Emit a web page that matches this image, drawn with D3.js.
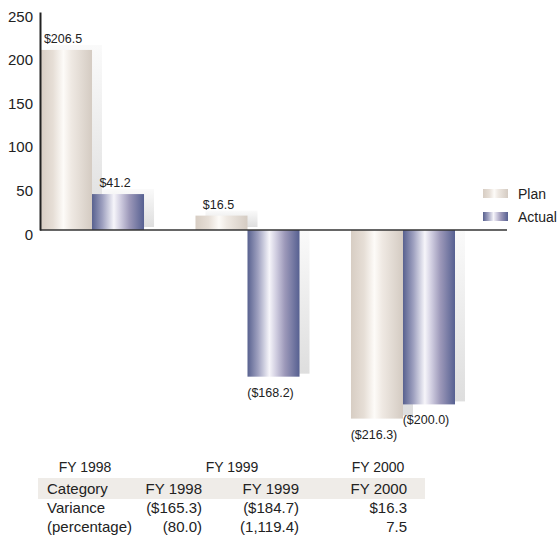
<!DOCTYPE html>
<html>
<head>
<meta charset="utf-8">
<script src="https://cdn.jsdelivr.net/npm/d3@7"></script>
<style>
  body { margin: 0; background: #fff; }
  text { font-family: "Liberation Sans", Arial, sans-serif; fill: #222; }
</style>
</head>
<body>
<div id="chart"></div>
<script>
// data
const years = ['FY 1998', 'FY 1999', 'FY 2000'];
const series = ['Plan', 'Actual'];
const planValues = [206.5, 16.5, -216.3];
const actualValues = [41.2, -168.2, -200.0];
const yTicks = [0, 50, 100, 150, 200, 250];
const tableHeader = ['Category', 'FY 1998', 'FY 1999', 'FY 2000'];
const varianceRow = ['Variance', '($165.3)', '($184.7)', '$16.3'];
const percentRow = ['(percentage)', '(80.0)', '(1,119.4)', '7.5'];

const width = 558, height = 538;

let svg = d3.select('#chart').append('svg')
    .attr('width', width)
    .attr('height', height);

let defs = svg.append('defs');

function hGrad(id, stops) {
    let g = defs.append('linearGradient').attr('id', id)
        .attr('x1', '0%').attr('x2', '100%').attr('y1', '0%').attr('y2', '0%');
    stops.forEach(s => g.append('stop').attr('offset', s[0]).attr('stop-color', s[1]));
}
hGrad('planGrad', [['0%', '#d7cdc3'], ['25%', '#e6ded6'], ['45%', '#fdfbf8'], ['60%', '#efe9e3'], ['100%', '#d4cbc2']]);
hGrad('actualGrad', [['0%', '#58618f'], ['20%', '#9ea0bf'], ['42%', '#f6f5fa'], ['55%', '#d0cde0'], ['72%', '#9c98b9'], ['100%', '#566091']]);

let sg = defs.append('linearGradient').attr('id', 'shadowGrad')
    .attr('x1', '0%').attr('x2', '0%').attr('y1', '0%').attr('y2', '100%');
sg.append('stop').attr('offset', '0%').attr('stop-color', '#fafafa');
sg.append('stop').attr('offset', '100%').attr('stop-color', '#dedede');

// scales
let y = d3.scaleLinear().domain([0, 250]).range([230, 12]);
let x0 = d3.scaleBand().domain(years).range([40, 455]).paddingInner(0.331).paddingOuter(0);
let x1 = d3.scaleBand().domain(series).range([0, x0.bandwidth()]);

let data = years.map((yr, i) => ({
    year: yr,
    bars: [{ s: 'Plan', v: planValues[i] }, { s: 'Actual', v: actualValues[i] }]
}));

let groups = svg.append('g').selectAll('g.grp').data(data).join('g')
    .attr('class', 'grp')
    .attr('transform', d => `translate(${x0(d.year)},0)`);

// shadows first
groups.selectAll('rect.shadow').data(d => d.bars).join('rect')
    .attr('class', 'shadow')
    .attr('x', d => x1(d.s) + 10)
    .attr('width', x1.bandwidth())
    .attr('y', d => d.v >= 0 ? y(d.v) - 5 : y(0) + 1)
    .attr('height', d => d.v >= 0 ? y(0) - y(d.v) + 2 : y(d.v) - y(0) - 4)
    .attr('fill', 'url(#shadowGrad)');

groups.selectAll('rect.bar').data(d => d.bars).join('rect')
    .attr('class', 'bar')
    .attr('x', d => x1(d.s))
    .attr('width', x1.bandwidth())
    .attr('y', d => y(Math.max(0, d.v)))
    .attr('height', d => Math.abs(y(d.v) - y(0)))
    .attr('fill', d => d.s === 'Plan' ? 'url(#planGrad)' : 'url(#actualGrad)');

groups.selectAll('text.lbl').data(d => d.bars).join('text')
    .attr('class', 'lbl')
    .attr('x', d => x1(d.s) + x1.bandwidth() / 2 - 3)
    .attr('y', d => d.v >= 0 ? y(d.v) - 7 : y(d.v) + 20)
    .attr('text-anchor', 'middle')
    .style('font-size', '12.5px')
    .text(d => d.v >= 0 ? '$' + d.v.toFixed(1) : '($' + Math.abs(d.v).toFixed(1) + ')');

// zero line
svg.append('line')
    .attr('x1', 40).attr('x2', 507)
    .attr('y1', y(0)).attr('y2', y(0))
    .attr('stroke', '#333').attr('stroke-width', 1.5);

// y axis
let yAxis = d3.axisLeft(y).tickValues(yTicks).tickSize(0).tickPadding(7);
let ya = svg.append('g').attr('transform', 'translate(40,0)').call(yAxis);
ya.select('.domain').attr('stroke', '#222').attr('stroke-width', 2);
ya.selectAll('text')
    .attr('dy', '0.6em')
    .style('font-size', '15px')
    .style('font-family', '"Liberation Sans", Arial, sans-serif')
    .attr('fill', '#222');

// legend
let legend = svg.append('g').attr('transform', 'translate(483,189)');
series.forEach((s, i) => {
    let lg = legend.append('g').attr('transform', `translate(0,${i * 23})`);
    lg.append('rect').attr('width', 25).attr('height', 9)
        .attr('fill', s === 'Plan' ? 'url(#planGrad)' : 'url(#actualGrad)');
    lg.append('text').attr('x', 35).attr('y', 10)
        .style('font-size', '14px').text(s);
});

// year labels under chart
let yearCenters = d3.scaleOrdinal().domain(years).range([85, 232, 378]);
svg.append('g').selectAll('text').data(years).join('text')
    .attr('x', d => yearCenters(d))
    .attr('y', 472)
    .attr('text-anchor', 'middle')
    .style('font-size', '14px')
    .text(d => d);

// table
svg.append('rect').attr('x', 38).attr('y', 478).attr('width', 387).attr('height', 21)
    .attr('fill', '#efece8');

let colRight = [null, 202, 299, 407];
[tableHeader, varianceRow, percentRow].forEach((row, r) => {
    let ty = 494 + r * 19;
    row.forEach((cell, c) => {
        svg.append('text')
            .attr('x', c === 0 ? 47 : colRight[c])
            .attr('y', ty)
            .attr('text-anchor', c === 0 ? 'start' : 'end')
            .style('font-size', '15px')
            .text(cell);
    });
});
</script>
</body>
</html>
